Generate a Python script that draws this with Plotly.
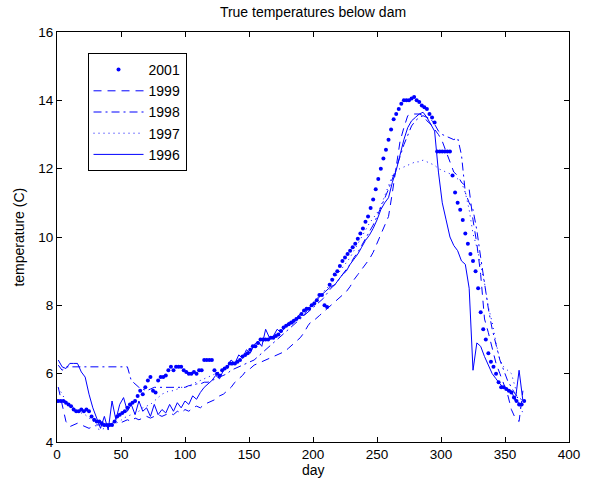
import plotly.graph_objects as go

days = list(range(1, 366, 3))
days2001 = list(range(1, 366, 2))

t2001 = [5.2, 5.2, 5.2, 5.15, 5.1, 5.05, 4.95, 4.9, 4.9, 4.95,
         4.9, 4.95, 4.9, 4.75, 4.65, 4.6, 4.6, 4.55, 4.5, 4.5,
         4.5, 4.5, 4.6, 4.75, 4.8, 4.85, 4.9, 5.0, 5.1, 5.15,
         5.2, 5.35, 5.5, 5.4, 5.6, 5.8, 5.9, 5.5, 5.45, 5.8,
         5.9, 5.9, 5.95, 6.1, 6.2, 6.1, 6.2, 6.2, 6.2, 6.1,
         6.05, 6.0, 6.0, 6.05, 6.0, 6.1, 6.1, 6.4, 6.4, 6.4,
         6.4, 6.1, 6.0, 5.95, 6.1, 6.15, 6.2, 6.3, 6.3, 6.3,
         6.35, 6.4, 6.5, 6.55, 6.6, 6.7, 6.8, 6.8, 6.9, 7.0,
         7.0, 7.0, 7.0, 7.05, 7.05, 7.1, 7.15, 7.25, 7.35, 7.4,
         7.45, 7.5, 7.55, 7.6, 7.65, 7.75, 7.85, 7.9, 7.9, 8.0,
         8.05, 8.15, 8.3, 8.3, 8.0, 7.95, 8.6, 8.75, 8.9, 9.0,
         9.15, 9.3, 9.4, 9.5, 9.6, 9.7, 9.8, 9.95, 10.1, 10.25,
         10.45, 10.6, 10.85, 11.1, 11.4, 11.7, 12.0, 12.3, 12.55, 12.85,
         13.15, 13.45, 13.6, 13.75, 13.9, 14.0, 14.0, 14.0, 14.05, 14.1,
         14.0, 13.95, 13.85, 13.8, 13.75, 13.6, 13.5, 13.35, 12.5, 12.5,
         12.5, 12.5, 12.5, 12.5, 11.8, 11.3, 11.0, 10.8, 10.5, 10.1,
         9.8, 9.5, 9.3, 9.0, 8.5, 7.8, 7.3, 7.0, 6.6, 6.35,
         6.2, 6.0, 5.75, 5.6, 5.6, 5.55, 5.5, 5.45, 5.3, 5.2,
         5.1, 5.1, 5.2]

t1999 = [5.6, 5.1, 4.6, 4.45, 4.5, 4.55, 4.5, 4.45, 4.4, 4.45, 4.5, 4.5, 4.45, 4.5, 4.55, 4.6, 4.55, 4.6, 4.65, 4.6,
         4.7, 4.65, 4.7, 4.75, 4.7, 4.75, 4.8, 4.75, 4.8, 4.85, 4.8, 4.9, 4.85, 4.95, 4.9, 5.0, 5.05, 5.0, 5.1, 5.15,
         5.2, 5.25, 5.35, 5.4, 5.5, 5.6, 5.75, 5.85, 5.95, 6.1, 6.15, 6.25, 6.3, 6.35, 6.4, 6.45, 6.5, 6.55, 6.6, 6.65,
         6.75, 6.85, 6.95, 7.05, 7.2, 7.4, 7.55, 7.6, 7.7, 7.8, 7.9, 8.0, 8.1, 8.2, 8.3, 8.4, 8.55, 8.75, 8.9, 9.05,
         9.2, 9.35, 9.55, 9.8, 10.05, 10.3, 10.6, 11.3, 12.1, 12.8, 13.2, 13.55, 13.6, 13.6, 13.6, 13.55, 13.4, 13.3, 13.15, 13.0,
         12.8, 12.5, 12.2, 11.9, 11.8, 11.6, 11.5, 11.4, 10.5, 9.8, 8.9, 7.6, 7.2, 6.7, 6.3, 6.0, 5.7, 5.4, 4.95, 4.7,
         4.6, 5.5]

t1998 = [6.25, 6.1, 6.2, 6.2, 6.2, 6.2, 6.2, 6.2, 6.2, 6.2, 6.2, 6.2, 6.2, 6.2, 6.2, 6.2, 6.2, 6.2, 6.2, 5.8,
         5.7, 5.6, 5.55, 5.5, 5.55, 5.6, 5.6, 5.6, 5.6, 5.6, 5.6, 5.6, 5.6, 5.6, 5.65, 5.65, 5.7, 5.7, 5.75, 5.75,
         5.8, 5.85, 5.9, 5.95, 6.0, 6.1, 6.15, 6.2, 6.25, 6.3, 6.35, 6.4, 6.5, 6.6, 6.7, 6.8, 6.9, 7.0, 7.1, 7.2,
         7.3, 7.4, 7.5, 7.6, 7.7, 7.8, 7.9, 8.0, 8.1, 8.2, 8.35, 8.5, 8.6, 8.75, 8.9, 9.05, 9.2, 9.4, 9.55, 9.75,
         9.95, 10.15, 10.35, 10.6, 10.85, 11.1, 11.4, 11.7, 12.0, 12.35, 12.7, 13.0, 13.25, 13.4, 13.5, 13.55, 13.5, 13.45, 13.3, 13.1,
         13.0, 12.95, 12.9, 12.85, 12.9, 12.4, 11.3, 11.0, 10.8, 10.2, 9.4, 8.6, 7.9, 7.3, 6.8, 6.4, 6.1, 5.8, 5.6, 5.4,
         5.3, 5.2]

t1997 = [5.6, 5.4, 5.2, 5.1, 5.0, 4.9, 4.85, 4.8, 4.7, 4.65, 4.4, 4.35, 4.4, 4.45, 4.5, 4.55, 4.6, 4.7, 4.75, 4.8,
         4.85, 4.9, 5.0, 5.05, 5.1, 5.2, 5.3, 5.4, 5.45, 5.5, 5.5, 5.55, 5.6, 5.6, 5.65, 5.7, 5.75, 5.8, 5.85, 5.9,
         5.95, 6.0, 6.05, 6.1, 6.15, 6.25, 6.3, 6.4, 6.5, 6.55, 6.65, 6.75, 6.85, 6.9, 7.0, 7.05, 7.1, 7.2, 7.3, 7.35,
         7.45, 7.55, 7.65, 7.75, 7.85, 7.95, 8.05, 8.15, 8.3, 8.4, 8.5, 8.65, 8.8, 8.95, 9.1, 9.25, 9.4, 9.6, 9.8, 10.0,
         10.2, 10.4, 10.55, 10.7, 10.9, 11.2, 11.5, 11.8, 11.95, 12.0, 12.05, 12.1, 12.15, 12.2, 12.2, 12.25, 12.2, 12.15, 12.1, 12.0,
         11.95, 11.9, 11.85, 11.8, 11.7, 11.6, 11.3, 10.8, 10.1, 9.7, 9.2, 8.65, 7.95, 7.5, 6.9, 6.4, 6.2, 6.1, 6.0, 5.6,
         5.1, 4.85]

t1996 = [6.4, 6.2, 6.15, 6.3, 6.3, 6.3, 6.05, 5.9, 5.4, 5.0, 4.7, 4.4, 4.75, 4.35, 5.2, 4.65, 5.1, 5.3, 4.9, 5.1,
         4.8, 5.2, 4.9, 5.0, 4.75, 5.1, 4.8, 4.95, 4.85, 5.1, 4.9, 5.15, 5.0, 5.2, 5.1, 5.35, 5.25, 5.45, 5.6, 5.7,
         5.8, 5.95, 5.85, 6.1, 6.2, 6.4, 6.3, 6.55, 6.45, 6.7, 6.6, 6.85, 6.95, 6.8, 7.3, 7.05, 7.1, 7.3, 7.2, 7.35,
         7.5, 7.45, 7.6, 7.75, 7.7, 7.9, 8.0, 8.1, 8.25, 8.35, 8.45, 8.55, 8.6, 8.75, 8.9, 9.0, 9.2, 9.35, 9.5, 9.7,
         9.9, 10.05, 10.25, 10.5, 10.8, 11.0, 11.15, 11.6, 11.95, 12.4, 12.85, 13.2, 13.4, 13.5, 13.6, 13.65, 13.5, 13.3, 13.1, 11.9,
         11.0, 10.5, 10.0, 9.75, 9.6, 9.3, 9.2, 8.5, 6.1, 6.9, 6.8, 6.5, 6.25, 6.0, 5.85, 5.7, 5.6, 5.55, 5.5, 5.2,
         6.1, 5.2]

blue = "#0000ff"
fig = go.Figure()
fig.add_trace(go.Scatter(x=days2001, y=t2001, mode="markers", name="2001",
                         marker=dict(color=blue, size=4)))
fig.add_trace(go.Scatter(x=days, y=t1999, mode="lines", name="1999",
                         line=dict(color=blue, width=1, dash="8px,6px")))
fig.add_trace(go.Scatter(x=days, y=t1998, mode="lines", name="1998",
                         line=dict(color=blue, width=1, dash="8px,4px,2px,4px")))
fig.add_trace(go.Scatter(x=days, y=t1997, mode="lines", name="1997",
                         line=dict(color=blue, width=1, dash="1px,4px")))
fig.add_trace(go.Scatter(x=days, y=t1996, mode="lines", name="1996",
                         line=dict(color=blue, width=1)))

axis_common = dict(showline=True, linecolor="black", linewidth=1, mirror="ticks",
                   ticks="inside", ticklen=5, tickcolor="black", showgrid=False,
                   zeroline=False, tickfont=dict(size=13.5, color="black"))

fig.update_layout(
    width=592, height=487,
    margin=dict(l=57, r=15, t=32, b=45),
    paper_bgcolor="white", plot_bgcolor="white",
    font=dict(family="Liberation Sans, Arial, sans-serif", size=14, color="black"),
    title=dict(text="True temperatures below dam", x=0.5, xref="paper", xanchor="center",
               y=1 - 12 / 487, yref="container", yanchor="middle", font=dict(size=14)),
    xaxis=dict(range=[0, 400], tickvals=list(range(0, 401, 50)), **axis_common),
    yaxis=dict(range=[4, 16], tickvals=list(range(4, 17, 2)), **axis_common),
    legend=dict(x=(88 - 57) / 520, y=(442 - 53) / 410, xanchor="left", yanchor="top",
                bordercolor="black", borderwidth=1, bgcolor="white",
                font=dict(size=14), tracegroupgap=0, itemwidth=50),
    showlegend=True,
    annotations=[
        dict(text="temperature (C)", x=-0.075, y=0.5, xref="paper", yref="paper",
             xanchor="center", yanchor="middle",
             textangle=-90, showarrow=False, font=dict(size=14)),
        dict(text="day", x=0.5, y=(442 - 470) / 410, xref="paper", yref="paper",
             xanchor="center", yanchor="middle",
             showarrow=False, font=dict(size=14)),
    ],
)

fig.write_html("out.html")
